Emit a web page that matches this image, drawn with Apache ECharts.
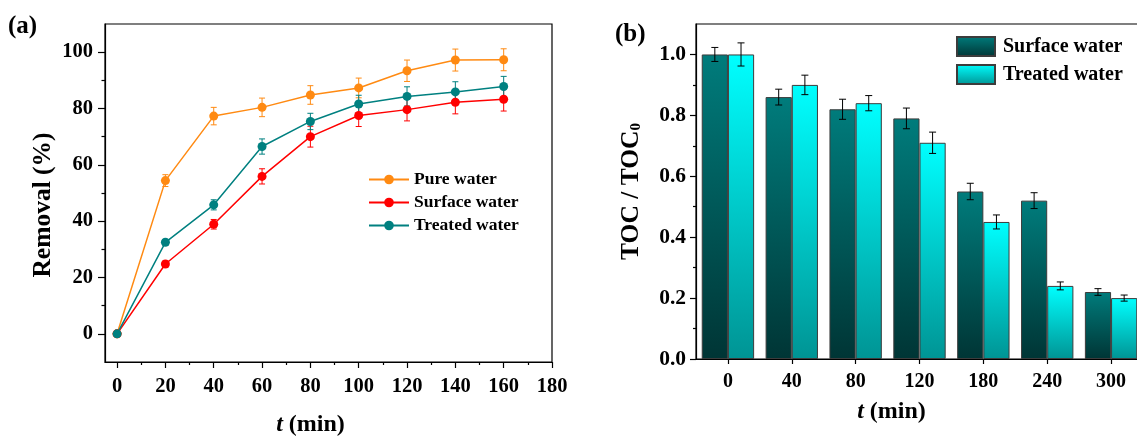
<!DOCTYPE html>
<html>
<head>
<meta charset="utf-8">
<script src="https://cdn.jsdelivr.net/npm/echarts@6/dist/echarts.min.js"></script>
<style>
  html, body { margin: 0; padding: 0; background: #fff; }
  #main { width: 1137px; height: 436px; }
</style>
</head>
<body>
<div id="main"></div>
<script>
  // (a) 去除率随时间变化
  var timeA = [0, 20, 40, 60, 80, 100, 120, 140, 160];
  var pure = [0, 54.4, 77.3, 80.4, 84.8, 87.3, 93.4, 97.2, 97.3];
  var pureErr = [0, 2.1, 3.1, 3.3, 3.3, 3.5, 3.8, 3.9, 3.9];
  var surface = [0, 24.8, 38.9, 55.9, 70.0, 77.5, 79.6, 82.2, 83.3];
  var surfaceErr = [0, 1.0, 1.7, 2.7, 3.7, 3.9, 4.0, 4.1, 4.2];
  var treated = [0, 32.5, 45.8, 66.5, 75.4, 81.6, 84.3, 85.9, 87.8];
  var treatedErr = [0, 1.0, 1.8, 2.7, 2.9, 3.1, 3.4, 3.6, 3.6];
  var xTicksA = [0, 20, 40, 60, 80, 100, 120, 140, 160, 180];
  var xMinorA = [10, 30, 50, 70, 90, 110, 130, 150, 170];
  var yTicksA = [0, 20, 40, 60, 80, 100];
  var yMinorA = [10, 30, 50, 70, 90];

  // (b) TOC / TOC0 柱状图
  var timeB = ['0', '40', '80', '120', '180', '240', '300'];
  var tocSurface = [1.00, 0.86, 0.82, 0.79, 0.55, 0.52, 0.22];
  var tocSurfaceErr = [0.023, 0.026, 0.033, 0.034, 0.027, 0.026, 0.011];
  var tocTreated = [1.00, 0.90, 0.84, 0.71, 0.45, 0.24, 0.20];
  var tocTreatedErr = [0.038, 0.032, 0.025, 0.035, 0.023, 0.013, 0.010];
  var yTicksB = [0, 0.2, 0.4, 0.6, 0.8, 1.0];
  var yMinorB = [0.1, 0.3, 0.5, 0.7, 0.9];

  var FONT = 'Liberation Serif';
  var myChart = echarts.init(document.getElementById('main'));

  function zip(xs, ys, es) {
    return xs.map(function (x, i) { return es ? [x, ys[i], es[i]] : [x, ys[i]]; });
  }

  // 误差棒 (a)
  function errLine(color) {
    return function (params, api) {
      var x = api.value(0), y = api.value(1), e = api.value(2);
      if (!e) return null;
      var hi = api.coord([x, y + e]);
      var lo = api.coord([x, y - e]);
      var w = 3;
      var st = { stroke: color, lineWidth: 1 };
      return {
        type: 'group',
        children: [
          { type: 'line', shape: { x1: hi[0], y1: hi[1], x2: lo[0], y2: lo[1] }, style: st },
          { type: 'line', shape: { x1: hi[0] - w, y1: hi[1], x2: hi[0] + w, y2: hi[1] }, style: st },
          { type: 'line', shape: { x1: lo[0] - w, y1: lo[1], x2: lo[0] + w, y2: lo[1] }, style: st }
        ]
      };
    };
  }

  // 误差棒 (b)，side: -1 左柱, 1 右柱
  function errBar(side) {
    return function (params, api) {
      var c = api.value(0), y = api.value(1), e = api.value(2);
      var band = api.size([1, 0])[0];
      var off = side * band * 0.205;
      var hi = api.coord([c, y + e]);
      var lo = api.coord([c, y - e]);
      var x = hi[0] + off;
      var w = 3.5;
      var st = { stroke: '#000', lineWidth: 1 };
      return {
        type: 'group',
        children: [
          { type: 'line', shape: { x1: x, y1: hi[1], x2: x, y2: lo[1] }, style: st },
          { type: 'line', shape: { x1: x - w, y1: hi[1], x2: x + w, y2: hi[1] }, style: st },
          { type: 'line', shape: { x1: x - w, y1: lo[1], x2: x + w, y2: lo[1] }, style: st }
        ]
      };
    };
  }

  function lineSeries(name, color, ys) {
    return {
      name: name, type: 'line', xAxisIndex: 0, yAxisIndex: 0,
      data: zip(timeA, ys), symbol: 'circle', symbolSize: 9,
      itemStyle: { color: color }, lineStyle: { color: color, width: 1.5 }, z: 4
    };
  }

  function errSeries(color, ys, es) {
    return {
      type: 'custom', xAxisIndex: 0, yAxisIndex: 0,
      data: zip(timeA, ys, es), renderItem: errLine(color), z: 3, silent: true
    };
  }

  var blackLine = { show: true, onZero: false, lineStyle: { color: '#000', width: 1.2 } };
  var tickStyle = { color: '#000', width: 1.2 };
  var labelA = { color: '#000', fontFamily: FONT, fontWeight: 'bold', fontSize: 20.5 };

  function nameStyle(size, pad) {
    return {
      color: '#000', fontFamily: FONT, fontWeight: 'bold', fontSize: size, padding: pad,
      rich: {
        i: { fontFamily: FONT, fontWeight: 'bold', fontStyle: 'italic', fontSize: size },
        sub: { fontFamily: FONT, fontWeight: 'bold', fontSize: 15, verticalAlign: 'bottom', lineHeight: 12 }
      }
    };
  }

  var option = {
    animation: false,
    backgroundColor: '#fff',
    textStyle: { fontFamily: FONT },
    grid: [
      { left: 105, top: 24, width: 447, height: 338, outerBoundsMode: 'none', show: true, borderColor: '#000', borderWidth: 1.2, backgroundColor: 'transparent' },
      { left: 696, top: 24, width: 447, height: 335, outerBoundsMode: 'none', show: true, borderColor: '#000', borderWidth: 1.2, backgroundColor: 'transparent' }
    ],
    graphic: [
      { type: 'text', left: 8, top: 14, style: { text: '(a)', font: 'bold 25px "Liberation Serif"', fill: '#000' } },
      { type: 'text', left: 615, top: 22, style: { text: '(b)', font: 'bold 25px "Liberation Serif"', fill: '#000' } }
    ],
    legend: [
      {
        data: ['Pure water', 'Surface water', 'Treated water'],
        orient: 'vertical', left: 368, top: 170, padding: 0,
        itemWidth: 40, itemHeight: 12, itemGap: 4,
        textStyle: { color: '#000', fontFamily: FONT, fontWeight: 'bold', fontSize: 17.5, lineHeight: 19 }
      },
      {
        data: [{ name: 'Surface water (b)', icon: 'rect' }, { name: 'Treated water (b)', icon: 'rect' }],
        formatter: function (name) { return name.replace(' (b)', ''); },
        orient: 'vertical', left: 956, top: 36, padding: 0,
        itemWidth: 38, itemHeight: 19, itemGap: 7,
        textStyle: { color: '#000', fontFamily: FONT, fontWeight: 'bold', fontSize: 20, lineHeight: 19, padding: [0, 0, 0, 3] }
      }
    ],
    xAxis: [
      {
        gridIndex: 0, type: 'value', position: 'bottom', min: -5, max: 180,
        axisLine: blackLine,
        axisTick: { show: true, customValues: xTicksA, length: 6, lineStyle: tickStyle },
        axisLabel: Object.assign({ customValues: xTicksA, margin: 14 }, labelA),
        splitLine: { show: false },
        name: '{i|t} (min)', nameLocation: 'middle', nameGap: 51, nameTextStyle: nameStyle(24, [0, 36, 0, 0])
      },
      {
        gridIndex: 0, type: 'value', position: 'bottom', min: -5, max: 180,
        axisLine: { show: false, onZero: false },
        axisTick: { show: true, customValues: xMinorA, length: 3, lineStyle: tickStyle },
        axisLabel: { show: false }, splitLine: { show: false }
      },
      {
        gridIndex: 1, type: 'category', data: timeB, position: 'bottom',
        axisLine: blackLine,
        axisTick: { show: true, alignWithLabel: true, length: 5, lineStyle: tickStyle },
        axisLabel: { color: '#000', fontFamily: FONT, fontWeight: 'bold', fontSize: 20, margin: 13 },
        splitLine: { show: false },
        name: '{i|t} (min)', nameLocation: 'middle', nameGap: 41, nameTextStyle: nameStyle(24, [0, 56, 0, 0])
      }
    ],
    yAxis: [
      {
        gridIndex: 0, type: 'value', position: 'left', min: -10, max: 110,
        axisLine: blackLine,
        axisTick: { show: true, customValues: yTicksA, length: 7, lineStyle: tickStyle },
        axisLabel: Object.assign({ customValues: yTicksA, margin: 12 }, labelA),
        splitLine: { show: false },
        name: 'Removal (%)', nameLocation: 'middle', nameGap: 49, nameTextStyle: nameStyle(25.5, [0, 24, 0, 0])
      },
      {
        gridIndex: 0, type: 'value', position: 'left', min: -10, max: 110,
        axisLine: { show: false, onZero: false },
        axisTick: { show: true, customValues: yMinorA, length: 3.5, lineStyle: tickStyle },
        axisLabel: { show: false }, splitLine: { show: false }
      },
      {
        gridIndex: 1, type: 'value', position: 'left', min: 0, max: 1.1,
        axisLine: blackLine,
        axisTick: { show: true, customValues: yTicksB, length: 6, lineStyle: tickStyle },
        axisLabel: {
          customValues: yTicksB,
          color: '#000', fontFamily: FONT, fontWeight: 'bold', fontSize: 21.5, margin: 10,
          formatter: function (v) { return Number(v).toFixed(1); }
        },
        splitLine: { show: false },
        name: 'TOC / TOC{sub|0}', nameLocation: 'middle', nameGap: 52, nameTextStyle: nameStyle(25.5, 0)
      },
      {
        gridIndex: 1, type: 'value', position: 'left', min: 0, max: 1.1,
        axisLine: { show: false, onZero: false },
        axisTick: { show: true, customValues: yMinorB, length: 3, lineStyle: tickStyle },
        axisLabel: { show: false }, splitLine: { show: false }
      }
    ],
    series: [
      lineSeries('Pure water', '#ff8a12', pure),
      lineSeries('Surface water', '#ff0000', surface),
      lineSeries('Treated water', '#008080', treated),
      errSeries('#ff8a12', pure, pureErr),
      errSeries('#ff0000', surface, surfaceErr),
      errSeries('#008080', treated, treatedErr),
      {
        name: 'Surface water (b)', type: 'bar', xAxisIndex: 2, yAxisIndex: 2,
        data: tocSurface, barWidth: '41%', barGap: '0%',
        itemStyle: {
          color: new echarts.graphic.LinearGradient(0, 0, 0, 1, [
            { offset: 0, color: '#007c7c' }, { offset: 1, color: '#003535' }
          ]),
          borderColor: '#3c3c3c', borderWidth: 1
        }
      },
      {
        name: 'Treated water (b)', type: 'bar', xAxisIndex: 2, yAxisIndex: 2,
        data: tocTreated, barWidth: '41%', barGap: '0%',
        itemStyle: {
          color: new echarts.graphic.LinearGradient(0, 0, 0, 1, [
            { offset: 0, color: '#00ffff' }, { offset: 1, color: '#009494' }
          ]),
          borderColor: '#3c3c3c', borderWidth: 1
        }
      },
      {
        type: 'custom', xAxisIndex: 2, yAxisIndex: 2, z: 5, silent: true,
        data: tocSurface.map(function (v, i) { return [i, v, tocSurfaceErr[i]]; }),
        renderItem: errBar(-1)
      },
      {
        type: 'custom', xAxisIndex: 2, yAxisIndex: 2, z: 5, silent: true,
        data: tocTreated.map(function (v, i) { return [i, v, tocTreatedErr[i]]; }),
        renderItem: errBar(1)
      }
    ]
  };

  myChart.setOption(option);
</script>
</body>
</html>
